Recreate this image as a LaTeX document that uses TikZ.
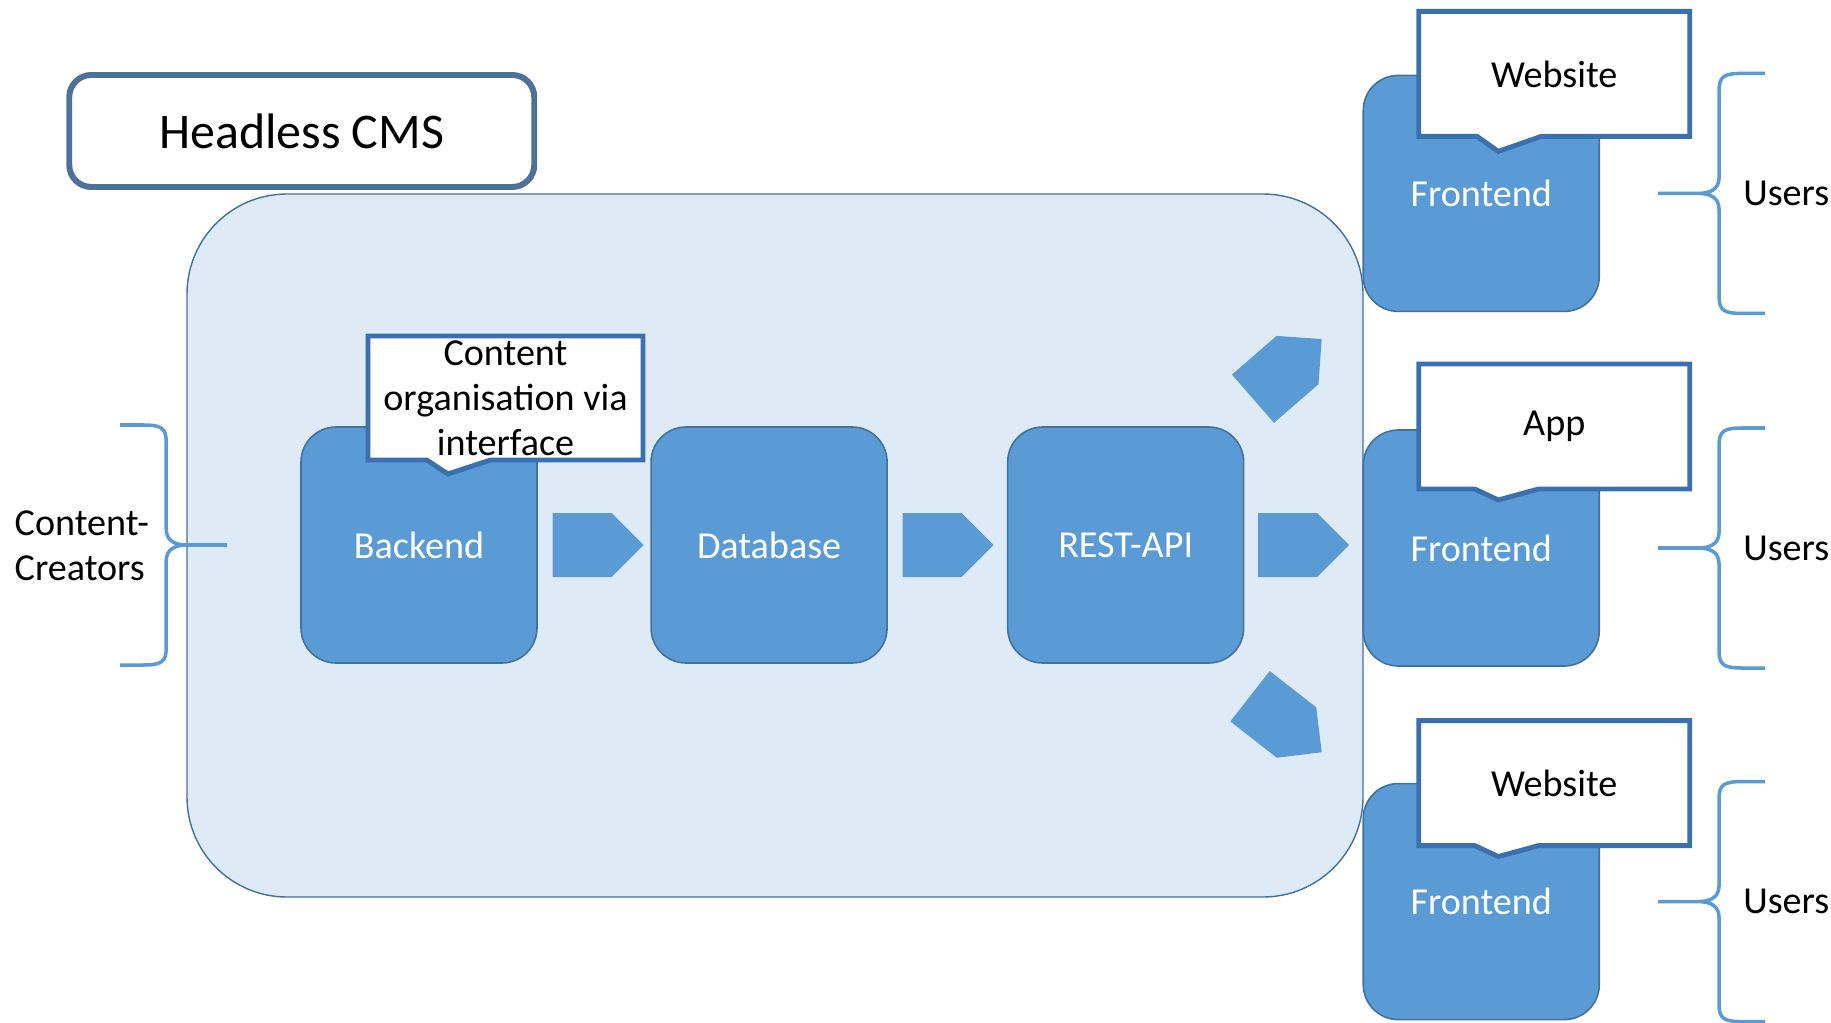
\documentclass[tikz,border=0pt]{standalone}
\usepackage{fontspec}
\setmainfont{Carlito}
\usepackage{tikz}
\usetikzlibrary{shapes,arrows,positioning,calc}

\definecolor{boxblue}{HTML}{5B9BD5}
\definecolor{boxline}{HTML}{41719C}
\definecolor{cmsfill}{HTML}{DEEBF7}
\definecolor{calloutline}{HTML}{3A70B0}
\definecolor{titleline}{HTML}{4E719A}

\begin{document}
\begin{tikzpicture}[node distance=1.17cm,
    panel/.style={rectangle, draw=boxline, line width=0.4pt, fill=cmsfill, rounded corners=1cm, minimum width=11.76cm, minimum height=7.03cm},
    title/.style={rectangle, draw=titleline, line width=1.7pt, rounded corners=0.22cm, minimum width=4.65cm, minimum height=1.12cm, font=\fontsize{14.2}{17}\selectfont},
    block/.style={rectangle, draw=boxline, line width=0.45pt, rounded corners=0.35cm, fill=boxblue, minimum width=2.36cm, minimum height=2.36cm, text=white, font=\fontsize{10.85}{12.8}\selectfont},
    note/.style={rectangle callout, draw=calloutline, line width=1.4pt, fill=white, minimum width=2.71cm, minimum height=1.25cm, inner sep=0pt, align=center, callout pointer width=0.64cm, font=\fontsize{10.85}{12.8}\selectfont},
    flow/.style={single arrow, single arrow head extend=0pt, fill=boxblue, minimum width=0.64cm, minimum height=0.91cm, inner sep=0pt},
    people/.style={inner sep=0pt, align=left, font=\fontsize{10.85}{12.8}\selectfont},
    bracket/.style={draw=boxblue, line width=1pt},
    userbrace/.pic={\draw[bracket] (0,0) -- (0.42,0)
        (1.07,1.2) -- (0.84,1.2) .. controls (0.66,1.2) and (0.61,1.17) .. (0.61,1.03) -- (0.61,0.16)
        .. controls (0.61,0.04) and (0.52,0) .. (0.40,0) .. controls (0.52,0) and (0.61,-0.04) .. (0.61,-0.16)
        -- (0.61,-1.03) .. controls (0.61,-1.17) and (0.66,-1.2) .. (0.84,-1.2) -- (1.07,-1.2);}]

    \useasboundingbox (0,0) rectangle (18.31,-10.22);

    \node[panel] (cms) at (7.75,-5.455) {};
    \node[title] (head) at (3.0175,-1.31) {Headless CMS};

    % CMS chain
    \node[block] (backend) at (4.19,-5.45) {Backend};
    \node[block, right=1.125cm of backend] (db) {Database};
    \node[block, right=1.19cm of db] (rest) {REST-API};

    % Frontends
    \node[block, right=1.18cm of rest, yshift=-0.03cm] (fe2) {Frontend};
    \node[block, above=1.17cm of fe2] (fe1) {Frontend};
    \node[block, below=1.16cm of fe2] (fe3) {Frontend};

    % Flow arrows
    \node[flow, right=0.14cm of backend] (f1) {};
    \node[flow, right=0.14cm of db] (f2) {};
    \node[flow, right=0.13cm of rest] (f3) {};
    \node[flow, anchor=tail, rotate=41] (f4) at ($(rest.north east)+(0.08,0.27)$) {};
    \node[flow, anchor=tail, rotate=-38] (f5) at ($(rest.south east)+(0.05,-0.32)$) {};

    % Callouts
    \node[note, minimum width=2.75cm, minimum height=1.24cm, callout absolute pointer={($(backend.center)+(0.29,0.71)$)}] (iface) at ($(backend.center)+(0.865,1.47)$) {Content\\organisation via\\interface};
    \node[note, callout absolute pointer={($(fe1.center)+(0.17,0.42)$)}] (web1) at ($(fe1.center)+(0.73,1.195)$) {Website};
    \node[note, callout absolute pointer={($(fe2.center)+(0.17,0.48)$)}] (app) at ($(fe2.center)+(0.73,1.215)$) {App};
    \node[note, callout absolute pointer={($(fe3.center)+(0.17,0.45)$)}] (web2) at ($(fe3.center)+(0.73,1.185)$) {Website};

    % Braces
    \pic[xscale=-1] at ([xshift=-0.73cm]backend.west) {userbrace};
    \node[people, anchor=west] (creators) at (0.14,-5.455) {Content-\\Creators};
    \pic at ([xshift=0.58cm]fe1.east) {userbrace};
    \pic at ([xshift=0.58cm]fe2.east) {userbrace};
    \pic at ([xshift=0.58cm]fe3.east) {userbrace};
    \node[people, anchor=west] (users1) at ([xshift=1.425cm]fe1.east) {Users};
    \node[people, anchor=west] (users2) at ([xshift=1.425cm]fe2.east) {Users};
    \node[people, anchor=west] (users3) at ([xshift=1.425cm]fe3.east) {Users};

\end{tikzpicture}
\end{document}
